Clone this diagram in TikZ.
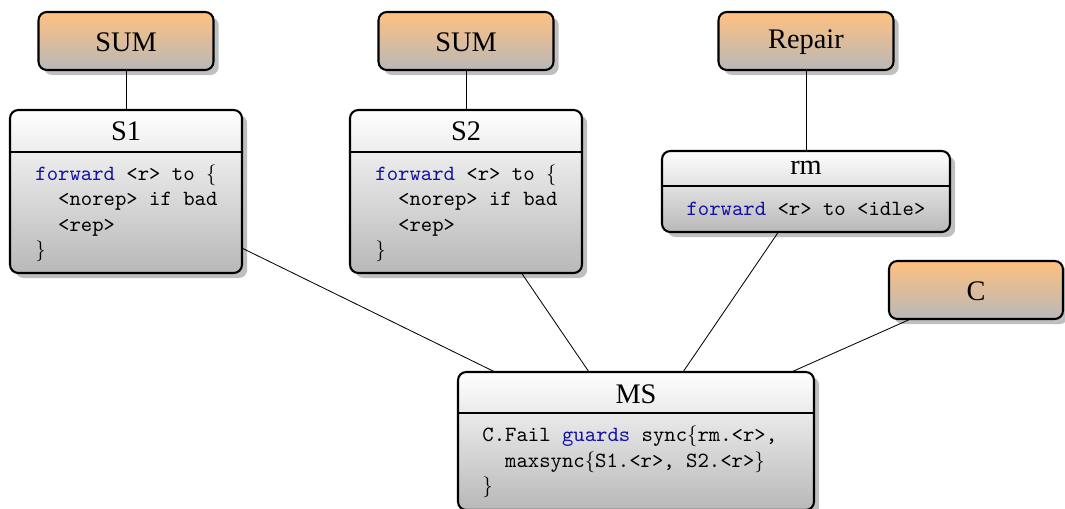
\documentclass[tikz,border=0pt]{standalone}
\usepackage{fontspec}
\setmainfont{Liberation Serif}
\usetikzlibrary{shadows}

\definecolor{kwblue}{RGB}{17,17,170}
\definecolor{comptop}{RGB}{255,192,128}
\definecolor{boxbot}{RGB}{184,184,184}

\newcommand\kw[1]{\textcolor{kwblue}{#1}}
\newcommand\lbr{$\{$}
\newcommand\rbr{$\}$}
\newcommand\pxu{0.48pt}
\newcommand\ind{\hspace*{1.05em}}

\tikzset{
  boxbase/.style={draw, line width=1pt, rounded corners=4pt,
    inner sep=0pt, outer sep=0pt,
    drop shadow={shadow xshift=2.5pt, shadow yshift=-2.4pt, fill=black!25, opacity=1}},
  comp/.style={boxbase, top color=comptop, bottom color=boxbot,
    minimum width=175*\pxu, minimum height=58*\pxu},
  cls/.style={boxbase, top color=white, bottom color=boxbot},
  ttl/.style={font=\fontsize{13.6}{16}\selectfont, anchor=base, inner sep=0pt},
  code/.style={font=\fontsize{10.4}{12.24}\selectfont\ttfamily, inner sep=0pt},
  divider/.style={line width=1pt},
  link/.style={line width=0.4pt}
}

\begin{document}
\begin{tikzpicture}[x=0.48pt, y=-0.48pt]
\useasboundingbox (0,0) rectangle (1065,508);

% component boxes
\node[comp] (sum1) at (126,41) {};
\node[comp] (sum2) at (466,41) {};
\node[comp] (rep)  at (806,41) {};
\node[comp, minimum width=174*\pxu] (cc) at (976,290) {};

% class boxes
\node[cls, minimum width=232*\pxu, minimum height=163*\pxu] (s1) at (126,191.5) {};
\node[cls, minimum width=232*\pxu, minimum height=163*\pxu] (s2) at (466,191.5) {};
\node[cls, minimum width=288*\pxu, minimum height=81*\pxu]  (rm) at (806,191.5) {};
\node[cls, minimum width=356*\pxu, minimum height=138*\pxu] (ms) at (636,441) {};

% title dividers
\draw[divider] (10,152) -- (242,152);
\draw[divider] (350,152) -- (582,152);
\draw[divider] (662,186) -- (950,186);
\draw[divider] (458,413.3) -- (814,413.3);

% component labels
\node[ttl] (sum1t) at (126,51.7) {SUM};
\node[ttl] (sum2t) at (466,51.7) {SUM};
\node[ttl] (rept)  at (806,48.3) {Repair};
\node[ttl] (cct)   at (976,300) {C};

% class titles
\node[ttl] (s1t) at (126,140.5) {S1};
\node[ttl] (s2t) at (466,140.5) {S2};
\node[ttl] (rmt) at (806,174.3) {rm};
\node[ttl] (mst) at (636,403.3) {MS};

% class bodies
\node[code, anchor=base west] (s1b) at (35,180) {\begin{tabular}[t]{@{}l@{}}
\kw{forward} <r> to \lbr\\
\ind<norep> if bad\\
\ind<rep>\\
\rbr
\end{tabular}};
\node[code, anchor=base west] (s2b) at (375,180) {\begin{tabular}[t]{@{}l@{}}
\kw{forward} <r> to \lbr\\
\ind<norep> if bad\\
\ind<rep>\\
\rbr
\end{tabular}};
\node[code, anchor=base] (rmb) at (806,215) {\kw{forward} <r> to <idle>};
\node[code, anchor=base west] (msb) at (482,441.7) {\begin{tabular}[t]{@{}l@{}}
C.Fail \kw{guards} sync\lbr rm.<r>,\\
\ind maxsync\lbr S1.<r>, S2.<r>\rbr\\
\rbr
\end{tabular}};

% connectors
\draw[link] (sum1) -- (s1);
\draw[link] (sum2) -- (s2);
\draw[link] (rep) -- (rm);
\draw[link] (s1) -- (ms);
\draw[link] (s2) -- (ms);
\draw[link] (rm) -- (ms);
\draw[link] (cc) -- (ms);
\end{tikzpicture}
\end{document}
